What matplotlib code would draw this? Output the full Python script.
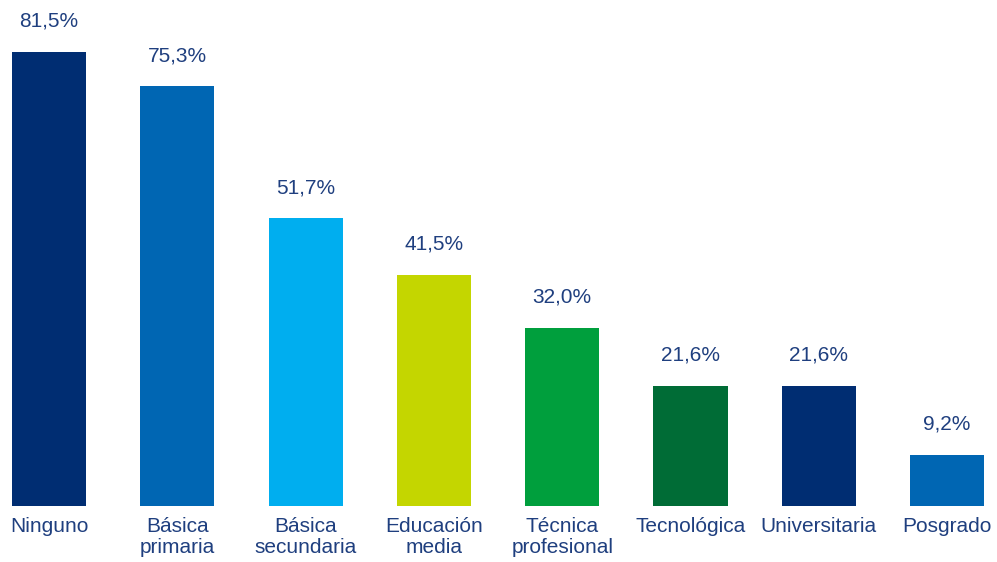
import matplotlib
matplotlib.use("Agg")
import matplotlib.pyplot as plt
import numpy as np

categories = ["Ninguno", "Básica\nprimaria", "Básica\nsecundaria", "Educación\nmedia",
              "Técnica\nprofesional", "Tecnológica", "Universitaria", "Posgrado"]
values = [81.5, 75.3, 51.7, 41.5, 32.0, 21.6, 21.6, 9.2]
colors = ["#002D72", "#0066B3", "#00AEEF", "#C4D600",
          "#009F3D", "#006C36", "#002D72", "#0066B3"]

text_color = "#1F3F7F"
plt.rcParams["font.family"] = ["Liberation Sans", "DejaVu Sans"]

fig = plt.figure(figsize=(9.97, 5.62), dpi=100)
ax = fig.add_axes([0, 56 / 562, 1, 506 / 562])

x = np.arange(len(categories))
bars = ax.bar(x, values, width=0.577, color=colors)

# value labels above each bar, decimal comma
for rect, v in zip(bars, values):
    label = f"{v:.1f}%".replace(".", ",")
    ax.annotate(label, (rect.get_x() + rect.get_width() / 2, rect.get_height()),
                xytext=(0, 15), textcoords="offset points",
                ha="center", va="bottom", fontsize=15, color=text_color)

ax.set_xlim(-0.382, 7.389)
ax.set_ylim(0, 90.8)
ax.set_xticks(x)
ax.set_xticklabels(categories, fontsize=15, color=text_color, linespacing=1.15)
ax.tick_params(axis="x", length=0, pad=8)
ax.set_yticks([])
for spine in ax.spines.values():
    spine.set_visible(False)

fig.savefig("out.png", dpi=100)
